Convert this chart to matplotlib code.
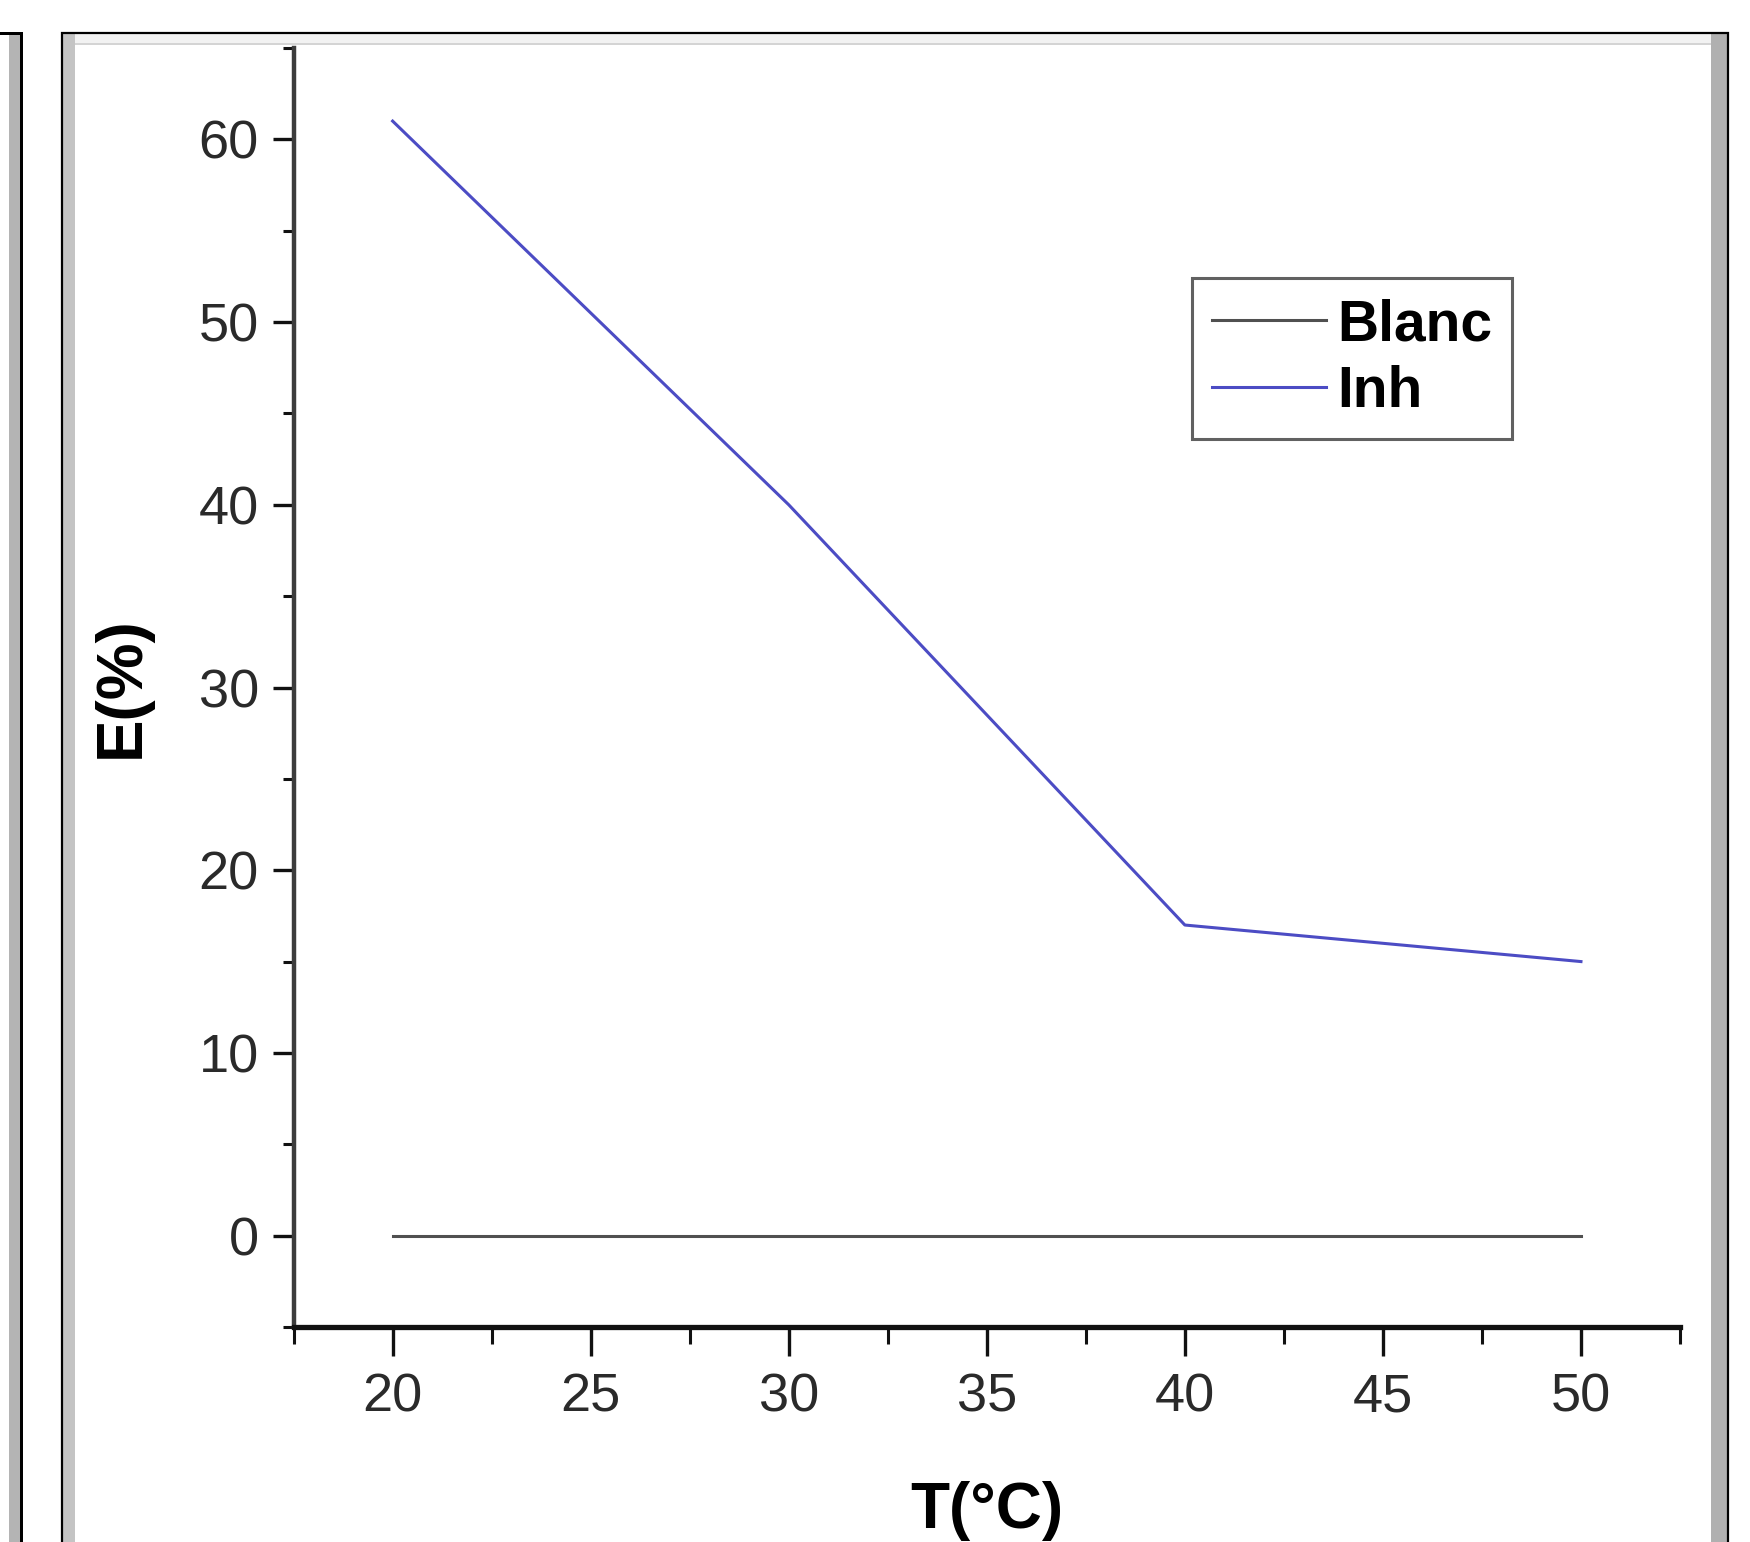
import matplotlib
matplotlib.use("Agg")
import matplotlib.pyplot as plt
from matplotlib import font_manager
from matplotlib.patches import Rectangle
from matplotlib.ticker import MultipleLocator

# data
temperature = [20, 30, 40, 50]
blanc = [0, 0, 0, 0]
inh = [61, 40, 17, 15]
series_labels = ["Blanc", "Inh"]

W, H = 1750, 1542

installed = {f.name for f in font_manager.fontManager.ttflist}
narrow = "Liberation Sans Narrow" if "Liberation Sans Narrow" in installed else "Liberation Sans"
plt.rcParams["font.family"] = [narrow, "DejaVu Sans"]

fig = plt.figure(figsize=(W / 100, H / 100), dpi=100, facecolor="white")


def px_rect(x0, y0, x1, y1, **kw):
    # rectangle given in image pixels (origin top-left)
    r = Rectangle((x0 / W, 1 - y1 / H), (x1 - x0) / W, (y1 - y0) / H,
                  transform=fig.transFigure, **kw)
    fig.patches.append(r)


# screenshot frame: neighbouring panel on the left, window frame around the plot
px_rect(9, 33, 20, H + 5, facecolor="#b4b4b4", edgecolor="none")
px_rect(20, 33, 22.5, H + 5, facecolor="black", edgecolor="none")
px_rect(0, 32, 22.5, 34.5, facecolor="black", edgecolor="none")
px_rect(63, 34, 1727, 45, facecolor="#f2f2f2", edgecolor="none")
px_rect(63, 43, 1727, 45, facecolor="#d4d4d4", edgecolor="none")
px_rect(63, 34, 75, H + 5, facecolor="#c4c4c4", edgecolor="none")
px_rect(1711, 34, 1727, H + 5, facecolor="#b0b0b0", edgecolor="none")
px_rect(62, 33, 1728, H + 20, facecolor="none", edgecolor="black", linewidth=1.6)

ax = fig.add_axes([293.6 / W, 1 - 1327 / H, (1680 - 293.6) / W, (1327 - 48) / H])
ax.set_facecolor("none")

ax.plot(temperature, blanc, color="#505050", linewidth=2.2, label=series_labels[0])
ax.plot(temperature, inh, color="#4c4cc4", linewidth=2.2, label=series_labels[1])

ax.set_xlim(17.5, 52.5)
ax.set_ylim(-5, 65)
ax.xaxis.set_major_locator(MultipleLocator(5))
ax.xaxis.set_minor_locator(MultipleLocator(2.5))
ax.yaxis.set_major_locator(MultipleLocator(10))
ax.yaxis.set_minor_locator(MultipleLocator(5))

for side in ["top", "right"]:
    ax.spines[side].set_visible(False)
ax.spines["left"].set_color("#3c3c3c")
ax.spines["bottom"].set_color("#111111")
ax.spines["left"].set_linewidth(3.2)
ax.spines["bottom"].set_linewidth(3.8)

ax.tick_params(axis="x", which="major", direction="out", length=21, width=2.4,
               pad=12, labelsize=39, colors="#111111", labelcolor="#2a2a2a")
ax.tick_params(axis="x", which="minor", direction="out", length=12, width=2.2, colors="#111111")
ax.tick_params(axis="y", which="major", direction="out", length=15, width=2.4,
               pad=10, labelsize=39, colors="#111111", labelcolor="#2a2a2a")
ax.tick_params(axis="y", which="minor", direction="out", length=8, width=2.2, colors="#111111")

ax.set_xlabel("T(°C)", fontsize=46, fontweight="bold", labelpad=42)
ax.set_ylabel("E(%)", fontsize=46, fontweight="bold", labelpad=34)

leg = ax.legend(loc="upper left", bbox_to_anchor=(0.648, 0.820),
                prop={"weight": "bold", "size": 41}, frameon=True, fancybox=False,
                handlelength=2.0, handletextpad=0.2, labelspacing=0.22,
                borderpad=0.35, borderaxespad=0.0)
leg.get_frame().set_edgecolor("#3a3a3a")
leg.get_frame().set_linewidth(2.2)

fig.savefig("out.png", dpi=100, facecolor="white")
